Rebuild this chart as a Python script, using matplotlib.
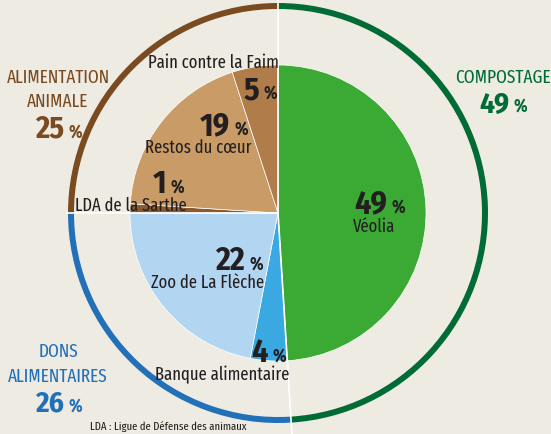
import numpy as np
import matplotlib.pyplot as plt
from matplotlib import font_manager

# =====================
# data
# =====================
slice_names = ["Véolia", "Banque alimentaire", "Zoo de La Flèche",
               "LDA de la Sarthe", "Restos du cœur", "Pain contre la Faim"]
slice_values = [49, 4, 22, 1, 19, 5]
slice_colors = ["#3BAA35", "#3AA8E1", "#B2D6F2", "#8A5A2E", "#C99B66", "#B07C4A"]

group_names = ["COMPOSTAGE", "DONS\nALIMENTAIRES", "ALIMENTATION\nANIMALE"]
group_values = [49, 26, 25]
group_colors = ["#006B35", "#2271B8", "#7A4B20"]

footnote = "LDA : Ligue de Défense des animaux"

# =====================
# fonts (condensed if available)
# =====================
names = {f.name for f in font_manager.fontManager.ttflist}


def pick(cands):
    for c in cands:
        if c in names:
            return c
    return "DejaVu Sans"


FONT = pick(["Fira Sans Extra Condensed", "Fira Sans Condensed", "PT Sans Narrow",
             "Roboto Condensed", "Asap Condensed", "Liberation Sans Narrow"])
NUMFONT = pick(["Fira Sans Condensed", FONT])
plt.rcParams["font.family"] = [FONT, "DejaVu Sans"]

W, H = 551, 435
BG = "#EEEBE3"
DARK = "#231F20"


def Y(y):
    # image pixel row -> data y
    return H - y


fig = plt.figure(figsize=(W / 100, H / 100), dpi=100, facecolor=BG)
ax = fig.add_axes([0, 0, 1, 1])

cx, cy = 278, Y(214)

# =====================
# outer ring
# =====================
ax.pie(group_values, colors=group_colors, startangle=90, counterclock=False,
       radius=210, center=(cx, cy), frame=True,
       wedgeprops=dict(width=6, edgecolor="none"))

# =====================
# inner pie
# =====================
ax.pie(slice_values, colors=slice_colors, startangle=90, counterclock=False,
       radius=148, center=(cx, cy), frame=True,
       wedgeprops=dict(edgecolor="white", linewidth=0.5))
ax.set_xlim(0, W)
ax.set_ylim(0, H)
ax.set_aspect("equal")
ax.axis("off")

# white separators between groups
bounds = 90 - 3.6 * np.cumsum([0] + group_values[:-1])
for ang, length in zip(bounds, [214, 225, 212]):
    a = np.deg2rad(ang)
    ax.plot([cx, cx + length * np.cos(a)], [cy, cy + length * np.sin(a)],
            color="white", lw=1.2, solid_capstyle="butt")


# =====================
# text
# =====================
def big(value, x_right, y_base, color, size=23, psize=13.5):
    ax.text(x_right, Y(y_base), str(value), ha="right", va="baseline",
            fontsize=size, fontweight="bold", color=color, family=[NUMFONT, "DejaVu Sans"])
    ax.text(x_right + 4, Y(y_base), "%", ha="left", va="baseline",
            fontsize=psize, fontweight="bold", color=color)


GS = 13.5

# group labels
ax.text(503, Y(83), group_names[0], ha="center", va="baseline",
        fontsize=GS, color=group_colors[0])
big(group_values[0], 509, 112, group_colors[0], size=21)

for i, line in enumerate(group_names[1].split("\n")):
    ax.text(58, Y(357 + 25 * i), line, ha="center", va="baseline",
            fontsize=GS, color=group_colors[1])
big(group_values[1], 64, 412, group_colors[1], size=21)

for i, line in enumerate(group_names[2].split("\n")):
    ax.text(58, Y(83 + 24 * i), line, ha="center", va="baseline",
            fontsize=GS, color=group_colors[2])
big(group_values[2], 64, 138, group_colors[2], size=22)

# slice labels
label_pos = {
    "Véolia": (374, 232),
    "Banque alimentaire": (222, 380),
    "Zoo de La Flèche": (208, 288),
    "LDA de la Sarthe": (131, 211),
    "Restos du cœur": (198, 153),
    "Pain contre la Faim": (213, 68),
}
num_pos = {
    "Véolia": (387, 213),
    "Banque alimentaire": (268, 362),
    "Zoo de La Flèche": (245, 270),
    "LDA de la Sarthe": (166, 193),
    "Restos du cœur": (230, 135),
    "Pain contre la Faim": (259, 99),
}
for name, val in zip(slice_names, slice_values):
    x, y = label_pos[name]
    ax.text(x, Y(y), name, ha="center", va="baseline", fontsize=13, color=DARK)
    xn, yn = num_pos[name]
    big(val, xn, yn, DARK)

ax.text(168, Y(430), footnote, ha="center", va="baseline", fontsize=8.3, color=DARK)

fig.savefig("out.png", dpi=100, facecolor=BG)
